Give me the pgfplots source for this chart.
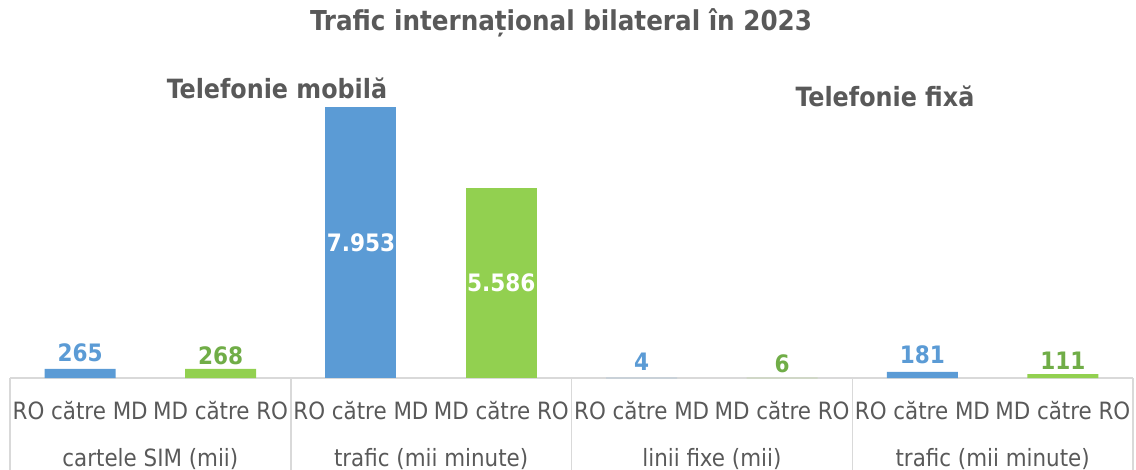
\documentclass[border=0pt]{standalone}
\usepackage{fontspec}
\setmainfont{DejaVu Sans Condensed}
\usepackage{pgfplots}
\pgfplotsset{compat=1.18}
\definecolor{barblue}{HTML}{5B9BD5}
\definecolor{bargreen}{HTML}{92D050}
\definecolor{lblgreen}{HTML}{70AD47}
\definecolor{txt}{HTML}{595959}
\definecolor{gridc}{HTML}{D9D9D9}
\begin{document}
\begin{tikzpicture}
\useasboundingbox (0,0) rectangle (1136bp,470bp);
\node[font=\bfseries\fontsize{27.4bp}{32bp}\selectfont, text=txt] at (561bp,447bp) {Trafic internațional bilateral în 2023};
\node[font=\bfseries\fontsize{26.5bp}{30bp}\selectfont, text=txt] at (277bp,382bp) {Telefonie mobilă};
\node[font=\bfseries\fontsize{26.5bp}{30bp}\selectfont, text=txt] at (885bp,374bp) {Telefonie fixă};
\begin{axis}[
  at={(10bp,92bp)}, anchor=south west,
  scale only axis, width=1123bp, height=378bp,
  xmin=-0.5, xmax=7.5, ymin=0, ymax=11093,
  axis x line*=bottom, hide y axis,
  x axis line style={-, draw=gridc, line width=1.5bp},
  xtick={0,...,7},
  xticklabels={RO către MD, MD către RO, RO către MD, MD către RO, RO către MD, MD către RO, RO către MD, MD către RO},
  major tick length=0pt,
  xticklabel style={font=\fontsize{23.8bp}{28bp}\selectfont, text=txt, anchor=base, yshift=-41bp},
  extra x ticks={-0.5,1.5,3.5,5.5,7.5},
  extra x tick labels={},
  extra x tick style={major tick length=100bp, tick align=outside, tick style={draw=gridc, line width=1.5bp}},
  ybar, bar width=71bp,
  nodes near coords={\pgfmathprintnumber[1000 sep={.}]{\pgfplotspointmeta}},
  nodes near coords style={font=\bfseries\fontsize{24bp}{28bp}\selectfont},
  /pgf/number format/assume math mode=true,
  clip=false,
]
\addplot[fill=barblue, draw=none, bar shift=0pt, nodes near coords style={text=barblue, yshift=4bp}] coordinates {(0,265) (4,4) (6,181)};
\addplot[fill=barblue, draw=none, bar shift=0pt, nodes near coords align={center}, nodes near coords style={text=white, yshift=-135.5bp}] coordinates {(2,7953)};
\addplot[fill=bargreen, draw=none, bar shift=0pt, nodes near coords style={text=lblgreen, yshift=1bp}] coordinates {(1,268) (5,6) (7,111)};
\addplot[fill=bargreen, draw=none, bar shift=0pt, nodes near coords align={center}, nodes near coords style={text=white, yshift=-95bp}] coordinates {(3,5586)};
\node[font=\fontsize{23.8bp}{28bp}\selectfont, text=txt, anchor=base, yshift=-88bp] at (axis cs:0.5,0) {cartele SIM (mii)};
\node[font=\fontsize{23.8bp}{28bp}\selectfont, text=txt, anchor=base, yshift=-88bp] at (axis cs:2.5,0) {trafic (mii minute)};
\node[font=\fontsize{23.8bp}{28bp}\selectfont, text=txt, anchor=base, yshift=-88bp] at (axis cs:4.5,0) {linii fixe (mii)};
\node[font=\fontsize{23.8bp}{28bp}\selectfont, text=txt, anchor=base, yshift=-88bp] at (axis cs:6.5,0) {trafic (mii minute)};
\end{axis}
\end{tikzpicture}
\end{document}
